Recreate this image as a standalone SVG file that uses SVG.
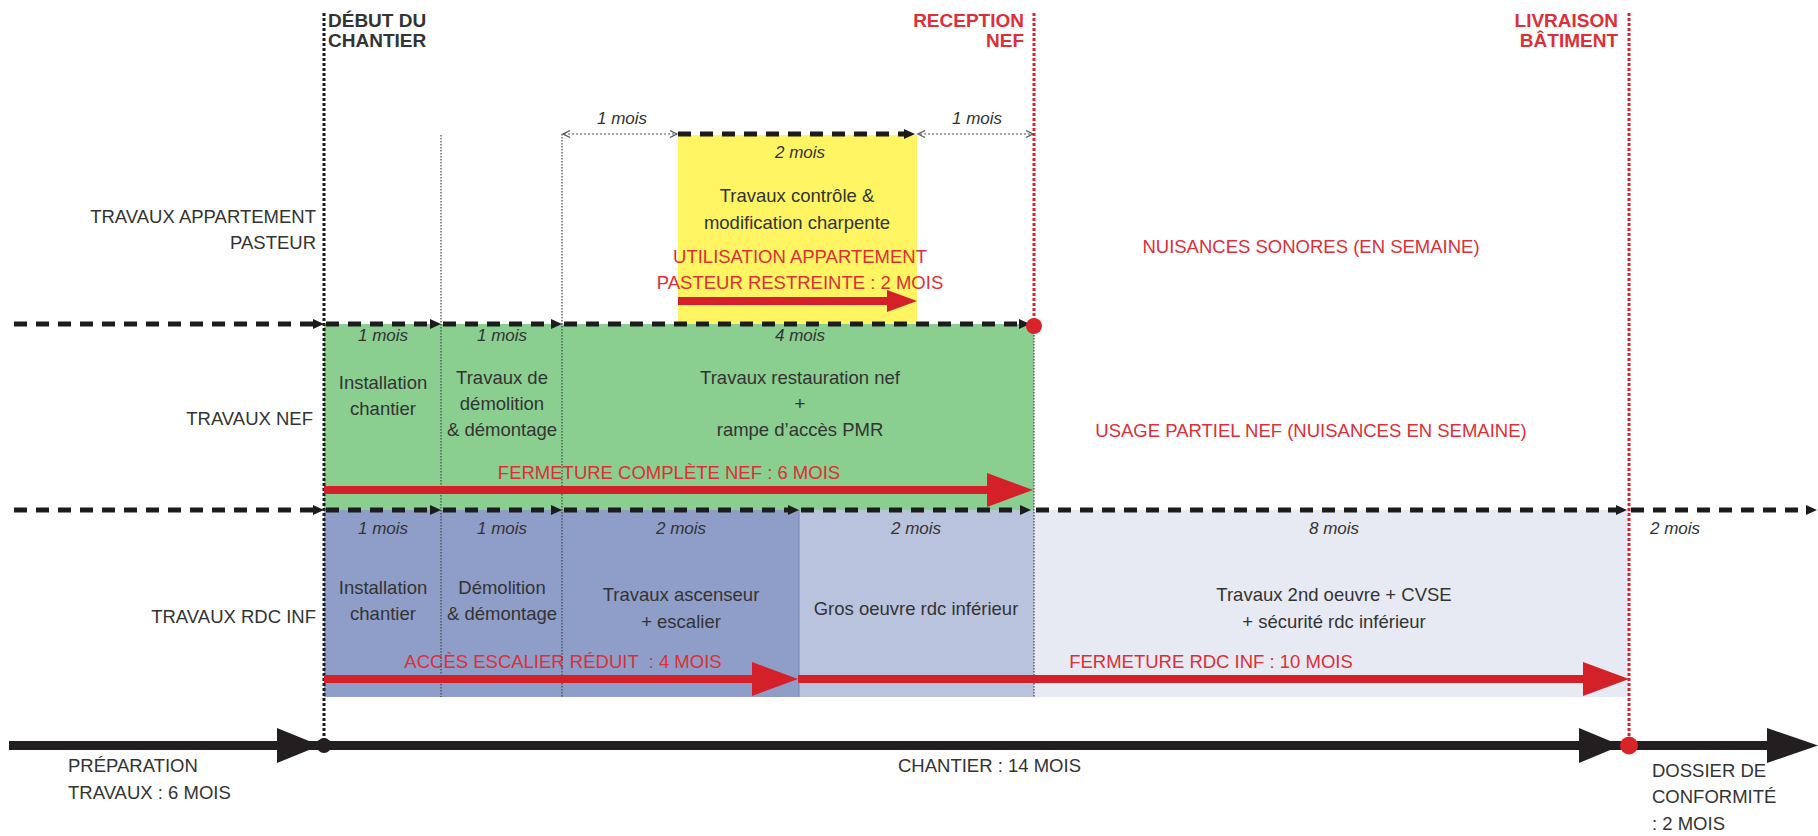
<svg xmlns="http://www.w3.org/2000/svg" xmlns:xlink="http://www.w3.org/1999/xlink" width="1818" height="836" viewBox="0 0 1818 836">
<style>
.t{font-family:"Liberation Sans",Arial,sans-serif;font-size:18.5px;fill:#333}
.r{font-family:"Liberation Sans",Arial,sans-serif;font-size:18.5px;fill:#DC2F37}
.b{font-family:"Liberation Sans",Arial,sans-serif;font-size:19px;font-weight:bold;fill:#333}
.rb{font-family:"Liberation Sans",Arial,sans-serif;font-size:19px;font-weight:bold;fill:#DC2F37}
.m{font-family:"Liberation Sans",Arial,sans-serif;font-size:17px;font-style:italic;fill:#333}
.c{text-anchor:middle}
.e{text-anchor:end}
.dash{stroke:#1c1c1c;stroke-width:5;stroke-dasharray:13 9;fill:none}
.vdot{stroke:#1c1c1c;stroke-width:3;stroke-dasharray:3 2;fill:none}
.vred{stroke:#D8232B;stroke-width:3;stroke-dasharray:3 2;fill:none}
.thin{stroke:#444;stroke-width:1.2;stroke-dasharray:1.5 1.5;fill:none}
.dim{stroke:#555;stroke-width:1.2;stroke-dasharray:2 2;fill:none}
.chev{stroke:#555;stroke-width:1.3;fill:none}
.redbar{fill:#D42029}
.axis{fill:#231F20}
</style>
<defs>
<path id="ah" d="M-11,-5 L0,0 L-11,5 z" fill="#1c1c1c"/>
</defs>

<!-- task blocks -->
<g id="appartement">
<rect x="678" y="135" width="239" height="189" fill="#FFF563"/>
<text class="m c" x="800" y="158">2 mois</text>
<text class="t c" x="797" y="202">Travaux contrôle &amp;</text>
<text class="t c" x="797" y="229">modification charpente</text>
<text class="r c" x="800" y="263">UTILISATION APPARTEMENT</text>
<text class="r c" x="800" y="289">PASTEUR RESTREINTE : 2 MOIS</text>
</g>

<g id="nef">
<rect x="324" y="324" width="710" height="186" fill="#8ACE90"/>
<text class="m c" x="383" y="341">1 mois</text>
<text class="m c" x="502" y="341">1 mois</text>
<text class="m c" x="800" y="341">4 mois</text>
<text class="t c" x="383" y="389">Installation</text>
<text class="t c" x="383" y="415">chantier</text>
<text class="t c" x="502" y="384">Travaux de</text>
<text class="t c" x="502" y="410">démolition</text>
<text class="t c" x="502" y="436">&amp; démontage</text>
<text class="t c" x="800" y="384">Travaux restauration nef</text>
<text class="t c" x="800" y="410">+</text>
<text class="t c" x="800" y="436">rampe d’accès PMR</text>
<text class="r c" x="669" y="479">FERMETURE COMPLÈTE NEF : 6 MOIS</text>
</g>

<g id="rdc">
<rect x="324" y="510" width="475" height="187" fill="#8F9EC8"/>
<rect x="799" y="510" width="235" height="187" fill="#BAC3DE"/>
<rect x="1034" y="510" width="595" height="187" fill="#E7EAF2"/>
<line x1="799" y1="510" x2="799" y2="697" stroke="#7584B5" stroke-width="1"/>
<text class="m c" x="383" y="534">1 mois</text>
<text class="m c" x="502" y="534">1 mois</text>
<text class="m c" x="681" y="534">2 mois</text>
<text class="m c" x="916" y="534">2 mois</text>
<text class="m c" x="1334" y="534">8 mois</text>
<text class="m c" x="1675" y="534">2 mois</text>
<text class="t c" x="383" y="594">Installation</text>
<text class="t c" x="383" y="620">chantier</text>
<text class="t c" x="502" y="594">Démolition</text>
<text class="t c" x="502" y="620">&amp; démontage</text>
<text class="t c" x="681" y="601">Travaux ascenseur</text>
<text class="t c" x="681" y="628">+ escalier</text>
<text class="t c" x="916" y="615">Gros oeuvre rdc inférieur</text>
<text class="t c" x="1334" y="601">Travaux 2nd oeuvre + CVSE</text>
<text class="t c" x="1334" y="628">+ sécurité rdc inférieur</text>
<text class="r c" x="563" y="668" style="white-space:pre">ACCÈS ESCALIER RÉDUIT  : 4 MOIS</text>
<text class="r c" x="1211" y="668">FERMETURE RDC INF : 10 MOIS</text>
</g>

<!-- row labels -->
<g id="labels">
<text class="t e" x="316" y="223">TRAVAUX APPARTEMENT</text>
<text class="t e" x="316" y="249">PASTEUR</text>
<text class="t e" x="313" y="425">TRAVAUX NEF</text>
<text class="t e" x="316" y="623">TRAVAUX RDC INF</text>
<text class="r c" x="1311" y="253">NUISANCES SONORES (EN SEMAINE)</text>
<text class="r c" x="1311" y="437">USAGE PARTIEL NEF (NUISANCES EN SEMAINE)</text>
</g>

<!-- milestones -->
<g id="debut">
<text class="b" x="328" y="27">DÉBUT DU</text>
<text class="b" x="328" y="47">CHANTIER</text>
</g>
<g id="reception">
<text class="rb e" x="1024" y="27">RECEPTION</text>
<text class="rb e" x="1024" y="47">NEF</text>
</g>
<g id="livraison">
<text class="rb e" x="1618" y="27">LIVRAISON</text>
<text class="rb e" x="1618" y="47">BÂTIMENT</text>
</g>

<g id="connectors">
<!-- thin dividers -->
<line class="thin" x1="441" y1="135" x2="441" y2="697"/>
<line class="thin" x1="562" y1="134" x2="562" y2="697"/>
<line class="thin" x1="1034" y1="326" x2="1034" y2="697"/>

<!-- top dimension arrows -->
<line class="dim" x1="564" y1="134" x2="676" y2="134"/>
<polyline class="chev" points="570,130.5 563,134 570,137.5"/>
<polyline class="chev" points="670,130.5 677,134 670,137.5"/>
<text class="m c" x="622" y="124">1 mois</text>
<line class="dim" x1="920" y1="134" x2="1032" y2="134"/>
<polyline class="chev" points="925,130.5 918,134 925,137.5"/>
<polyline class="chev" points="1026,130.5 1033,134 1026,137.5"/>
<text class="m c" x="977" y="124">1 mois</text>
<line class="dash" x1="678" y1="134" x2="905" y2="134"/>
<use xlink:href="#ah" x="915" y="134"/>

<!-- dashed row separators -->
<line class="dash" x1="14" y1="324" x2="314" y2="324"/>
<use xlink:href="#ah" x="324" y="324"/>
<line class="dash" x1="326" y1="324" x2="431" y2="324"/>
<use xlink:href="#ah" x="441" y="324"/>
<line class="dash" x1="443" y1="324" x2="552" y2="324"/>
<use xlink:href="#ah" x="562" y="324"/>
<line class="dash" x1="564" y1="324" x2="1020" y2="324"/>
<use xlink:href="#ah" x="1030" y="324"/>

<line class="dash" x1="14" y1="510" x2="314" y2="510"/>
<use xlink:href="#ah" x="324" y="510"/>
<line class="dash" x1="326" y1="510" x2="431" y2="510"/>
<use xlink:href="#ah" x="441" y="510"/>
<line class="dash" x1="443" y1="510" x2="552" y2="510"/>
<use xlink:href="#ah" x="562" y="510"/>
<line class="dash" x1="564" y1="510" x2="789" y2="510"/>
<use xlink:href="#ah" x="799" y="510"/>
<line class="dash" x1="801" y1="510" x2="1021" y2="510"/>
<use xlink:href="#ah" x="1031" y="510"/>
<line class="dash" x1="1036" y1="510" x2="1617" y2="510"/>
<use xlink:href="#ah" x="1627" y="510"/>
<line class="dash" x1="1631" y1="510" x2="1806" y2="510"/>
<use xlink:href="#ah" x="1817" y="510"/>

<!-- milestone vertical lines -->
<line class="vdot" x1="324" y1="13" x2="324" y2="745"/>
<line class="vred" x1="1034" y1="13" x2="1034" y2="326"/>
<line class="vred" x1="1629" y1="13" x2="1629" y2="745"/>
<circle cx="1034" cy="326" r="8" fill="#D8232B"/>

<!-- red duration arrows -->
<rect class="redbar" x="678" y="297" width="210" height="8"/>
<polygon class="redbar" points="887,290 917,301 887,312"/>
<rect class="redbar" x="324" y="486" width="664" height="8"/>
<polygon class="redbar" points="987,473 1033,490 987,507"/>
<rect class="redbar" x="324" y="675" width="429" height="8"/>
<polygon class="redbar" points="752,662 798,679 752,696"/>
<rect class="redbar" x="798" y="675" width="786" height="8"/>
<polygon class="redbar" points="1583,662 1629,679 1583,696"/>

<!-- bottom timeline axis -->
<rect class="axis" x="9" y="741" width="1760" height="9"/>
<polygon class="axis" points="277,728 320,745.5 277,763"/>
<polygon class="axis" points="1579,728 1621,745.5 1579,763"/>
<polygon class="axis" points="1767,728 1818,745.5 1767,763"/>
<circle cx="324" cy="745.5" r="7.5" fill="#231F20"/>
<circle cx="1629" cy="745.5" r="9" fill="#D8232B"/>
</g>

<g id="phases">
<text class="t" x="68" y="772">PRÉPARATION</text>
<text class="t" x="68" y="799">TRAVAUX : 6 MOIS</text>
<text class="t" x="898" y="772">CHANTIER : 14 MOIS</text>
<text class="t" x="1652" y="777">DOSSIER DE</text>
<text class="t" x="1652" y="803">CONFORMITÉ</text>
<text class="t" x="1652" y="830">: 2 MOIS</text>
</g>
</svg>
